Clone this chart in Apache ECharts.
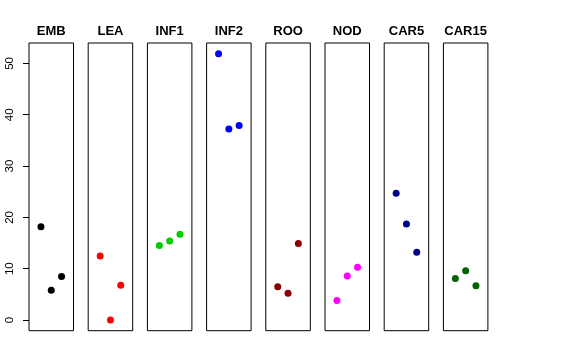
<!DOCTYPE html>
<html><head><meta charset="utf-8">
<script src="https://cdn.jsdelivr.net/npm/echarts@6/dist/echarts.min.js"></script>
<style>html,body{margin:0;padding:0;background:#fff}#c{width:576px;height:360px}</style>
</head><body><div id="c"></div>
<script>
var categories = ['EMB','LEA','INF1','INF2','ROO','NOD','CAR5','CAR15'];
var EMB   = [18.2, 5.8, 8.5];
var LEA   = [12.5, 0.0, 6.8];
var INF1  = [14.5, 15.4, 16.7];
var INF2  = [51.9, 37.2, 37.9];
var ROO   = [6.5, 5.2, 14.9];
var NOD   = [3.8, 8.6, 10.3];
var CAR5  = [24.7, 18.7, 13.2];
var CAR15 = [8.1, 9.6, 6.7];
var seriesValues = [EMB, LEA, INF1, INF2, ROO, NOD, CAR5, CAR15];
var yTickMin = 0, yTickMax = 50, yTickStep = 10;
var colors = ['#000000','#FF0000','#00CD00','#0000FF','#8B0000','#FF00FF','#00008B','#006400'];

(function () {
var all = [].concat.apply([], seriesValues);
var dMin = Math.min.apply(null, all), dMax = Math.max.apply(null, all);
var pad = 0.04 * (dMax - dMin);
var yMin = dMin - pad, yMax = dMax + pad;

var grids = [], xAxes = [], yAxes = [], series = [], titles = [];
var left0 = 29, pitch = 59.2, w = 44.5, gTop = 43, h = 287.7;
categories.forEach(function (cat, i) {
  var l = left0 + pitch * i;
  grids.push({left: l, top: gTop, width: w, height: h, show: true, borderColor: '#000', borderWidth: 1, backgroundColor: 'transparent'});
  xAxes.push({type: 'value', gridIndex: i, min: -0.16, max: 4.16, show: false});
  yAxes.push({type: 'value', gridIndex: i, min: yMin, max: yMax, show: false});
  series.push({
    type: 'scatter', xAxisIndex: i, yAxisIndex: i, symbol: 'circle', symbolSize: 7,
    itemStyle: {color: colors[i], opacity: 1},
    data: seriesValues[i].map(function (v, j) { return [j + 1, v]; })
  });
  titles.push({text: cat, left: l + w / 2, top: 24.5, textAlign: 'center', padding: 0,
    textStyle: {fontFamily: 'Liberation Sans', fontWeight: 'bold', fontSize: 13, color: '#000'}});
});
var ppu = h / (yMax - yMin);
grids.push({left: left0, top: gTop + (yMax - yTickMax) * ppu, width: w, height: (yTickMax - yTickMin) * ppu, show: false});
xAxes.push({type: 'value', gridIndex: 8, min: 0, max: 1, show: false});
yAxes.push({
  type: 'value', gridIndex: 8, min: yTickMin, max: yTickMax, interval: yTickStep,
  splitLine: {show: false},
  axisLine: {show: false},
  axisTick: {show: true, length: 6, lineStyle: {color: '#000'}},
  axisLabel: {show: true, rotate: 90, margin: 13, fontFamily: 'Liberation Sans', fontSize: 11.5, color: '#000'}
});

var chart = echarts.init(document.getElementById('c'), null, {renderer: 'canvas'});
chart.setOption({
  animation: false,
  backgroundColor: '#fff',
  title: titles,
  grid: grids,
  xAxis: xAxes,
  yAxis: yAxes,
  series: series
});
})();
</script></body></html>
